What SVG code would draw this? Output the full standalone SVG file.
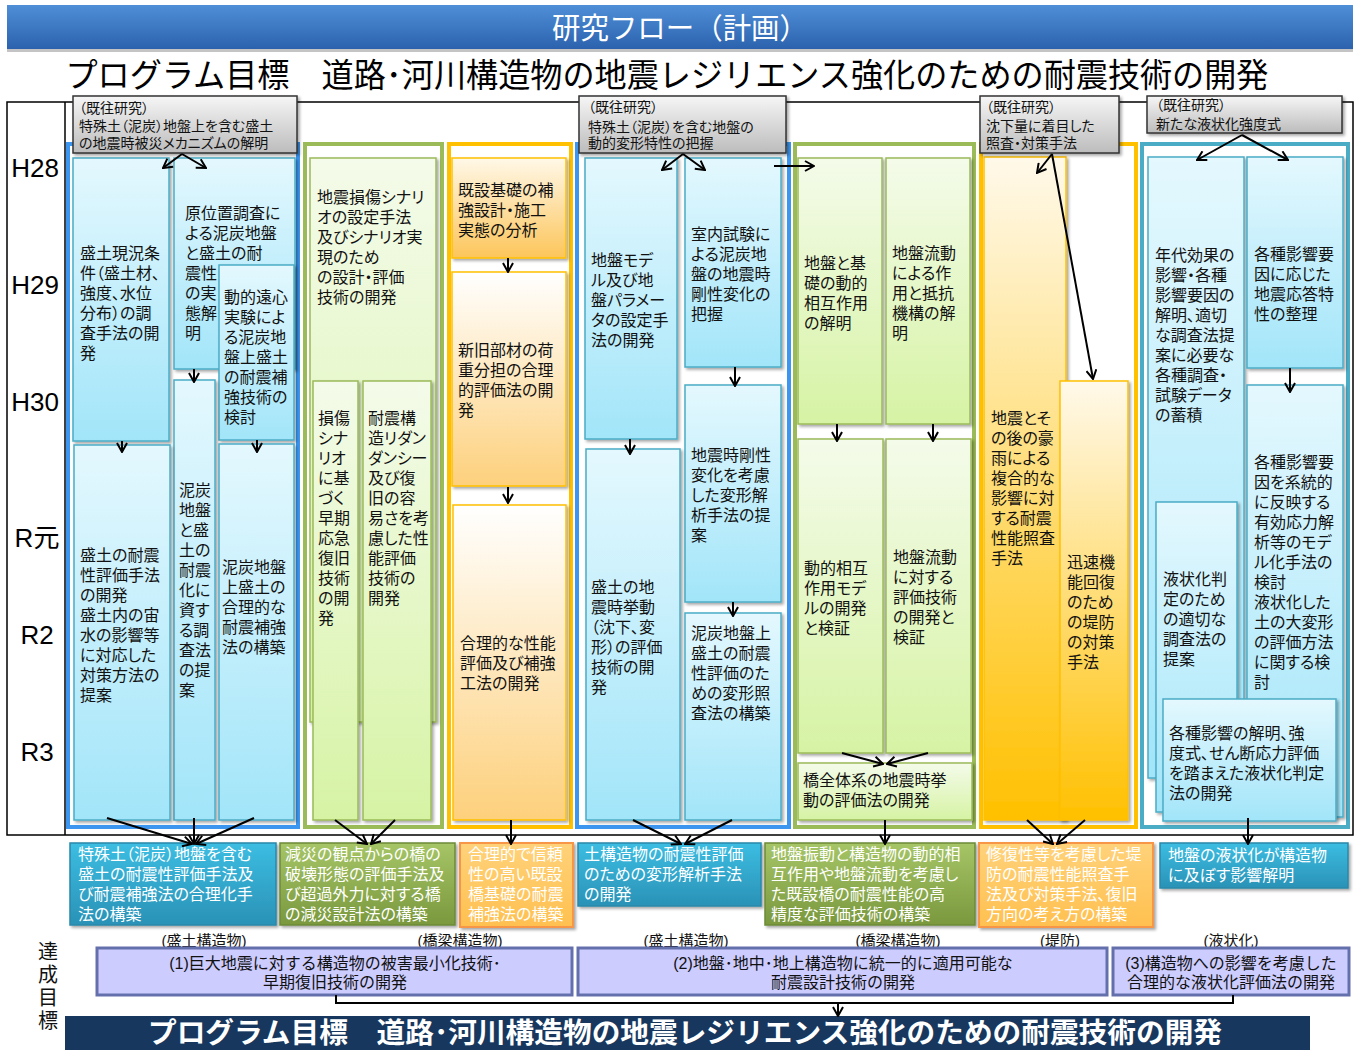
<svg xmlns="http://www.w3.org/2000/svg" width="1359" height="1050" viewBox="0 0 1359 1050">
<defs>
<linearGradient id="gB" x1="0" y1="0" x2="0" y2="1"><stop offset="0" stop-color="#e4f8fe"/><stop offset="1" stop-color="#a2e5f9"/></linearGradient>
<linearGradient id="gG" x1="0" y1="0" x2="0" y2="1"><stop offset="0" stop-color="#f4fbea"/><stop offset="1" stop-color="#d6f3a4"/></linearGradient>
<linearGradient id="gO1" x1="0" y1="0" x2="0" y2="1"><stop offset="0" stop-color="#fff8e8"/><stop offset="1" stop-color="#fcc55a"/></linearGradient>
<linearGradient id="gO2" x1="0" y1="0" x2="0" y2="1"><stop offset="0" stop-color="#ffffff"/><stop offset="1" stop-color="#fdd07c"/></linearGradient>
<linearGradient id="gO3" x1="0" y1="0" x2="0" y2="1"><stop offset="0" stop-color="#fff9ea"/><stop offset="1" stop-color="#ffc000"/></linearGradient>
<linearGradient id="gGr" x1="0" y1="0" x2="0" y2="1"><stop offset="0" stop-color="#f6f6f6"/><stop offset="1" stop-color="#bcbcbc"/></linearGradient>
<linearGradient id="gT" x1="0" y1="0" x2="0" y2="1"><stop offset="0" stop-color="#4f8fd8"/><stop offset="1" stop-color="#2c62ad"/></linearGradient>
<linearGradient id="oT" x1="0" y1="0" x2="0" y2="1"><stop offset="0" stop-color="#3cbde2"/><stop offset="1" stop-color="#2a92b6"/></linearGradient>
<linearGradient id="oG" x1="0" y1="0" x2="0" y2="1"><stop offset="0" stop-color="#a6c566"/><stop offset="1" stop-color="#7a983d"/></linearGradient>
<linearGradient id="oO" x1="0" y1="0" x2="0" y2="1"><stop offset="0" stop-color="#ffd27a"/><stop offset="1" stop-color="#ffc04f"/></linearGradient>
<filter id="sh" x="-15%" y="-10%" width="140%" height="130%"><feDropShadow dx="2" dy="2" stdDeviation="1.5" flood-color="#000" flood-opacity="0.35"/></filter>
<marker id="a" viewBox="0 0 12 12" refX="11" refY="6" markerWidth="12" markerHeight="12" markerUnits="userSpaceOnUse" orient="auto"><path d="M2,1 L11,6 L2,11" fill="none" stroke="#000" stroke-width="2"/></marker>
</defs>
<style>
.t{font-family:"Liberation Sans","Noto Sans CJK JP",sans-serif;font-size:16px;fill:#111;font-feature-settings:"palt" 1}
.gt{font-size:14px}
.ot{fill:#fff}
.yr{font-family:"Liberation Sans","Noto Sans CJK JP",sans-serif;font-size:26px;fill:#000;text-anchor:middle}
.nb{fill:url(#gB);stroke:#4bacc6;stroke-width:1.5;filter:url(#sh)}
.ng{fill:url(#gG);stroke:#9bbb59;stroke-width:1.5;filter:url(#sh)}
.no1{fill:url(#gO1);stroke:#ffc000;stroke-width:1.5;filter:url(#sh)}
.no2{fill:url(#gO2);stroke:#ffc000;stroke-width:1.5;filter:url(#sh)}
.no3{fill:url(#gO3);stroke:#ffc000;stroke-width:1.5;filter:url(#sh)}
.gr{fill:url(#gGr);stroke:#333;stroke-width:1.5;filter:url(#sh)}
.cb{fill:#fff;stroke:#3c96f0;stroke-width:4}
.cg{fill:#fff;stroke:#9bbb59;stroke-width:4}
.co{fill:#fff;stroke:#ffc000;stroke-width:4}
.ct{fill:#fff;stroke:#4bacc6;stroke-width:4}
.obt{fill:url(#oT);stroke:#2a88aa;stroke-width:1.5;filter:url(#sh)}
.obg{fill:url(#oG);stroke:#6d8a38;stroke-width:1.5;filter:url(#sh)}
.obo{fill:url(#oO);stroke:#f79646;stroke-width:2;filter:url(#sh)}
.gl{fill:#ccccff;stroke:#6470ac;stroke-width:3}
.c line,.c polyline{stroke:#000;stroke-width:2;fill:none}
.ar{marker-end:url(#a)}
</style>

<!-- header -->
<g id="header">
<rect x="7" y="8" width="1346" height="44" fill="#8a8a8a" opacity="0.5"/>
<rect x="7" y="5" width="1346" height="44" fill="url(#gT)"/>
<text class="t" x="680" y="39" style="font-size:29px;fill:#fff;text-anchor:middle;font-feature-settings:normal" textLength="256" lengthAdjust="spacingAndGlyphs">研究フロー（計画）</text>
<text class="t" x="667" y="87" style="font-size:33px;fill:#000;text-anchor:middle;font-feature-settings:normal" textLength="1203" lengthAdjust="spacingAndGlyphs">プログラム目標　道路･河川構造物の地震レジリエンス強化のための耐震技術の開発</text>
</g>

<!-- frame and years -->
<g id="frame">
<rect x="7" y="102" width="1346" height="733" fill="none" stroke="#000" stroke-width="1.5"/>
<line x1="65" y1="102" x2="65" y2="835" stroke="#000" stroke-width="1.5"/>
<text class="yr" x="35" y="177">H28</text>
<text class="yr" x="35" y="294">H29</text>
<text class="yr" x="35" y="411">H30</text>
<text class="yr" x="37" y="547">R元</text>
<text class="yr" x="37" y="644">R2</text>
<text class="yr" x="37" y="761">R3</text>
</g>

<!-- containers -->
<g id="containers">
<rect class="cb" x="68" y="144" width="230" height="683"/>
<rect class="cg" x="305" y="144" width="137" height="683"/>
<rect class="co" x="449" y="144" width="122" height="683"/>
<rect class="cb" x="577" y="144" width="212" height="683"/>
<rect class="cg" x="795" y="144" width="179" height="683"/>
<rect class="co" x="981" y="144" width="155" height="683"/>
<rect class="ct" x="1142" y="144" width="206" height="683"/>
</g>

<!-- column 1 -->
<g id="n1a"><rect class="nb" x="73" y="158" width="96" height="283"/>
<text class="t" x="80" y="259"><tspan x="80">盛土現況条</tspan><tspan x="80" dy="20">件（盛土材、</tspan><tspan x="80" dy="20">強度、水位</tspan><tspan x="80" dy="20">分布）の調</tspan><tspan x="80" dy="20">査手法の開</tspan><tspan x="80" dy="20">発</tspan></text></g>
<g id="n1b"><rect class="nb" x="174" y="158" width="121" height="211"/>
<text class="t" x="185" y="219"><tspan x="185">原位置調査に</tspan><tspan x="185" dy="20">よる泥炭地盤</tspan><tspan x="185" dy="20">と盛土の耐</tspan><tspan x="185" dy="20">震性</tspan><tspan x="185" dy="20">の実</tspan><tspan x="185" dy="20">態解</tspan><tspan x="185" dy="20">明</tspan></text></g>
<g id="n1c"><rect class="nb" x="219" y="265" width="75" height="175"/>
<text class="t" x="224" y="303"><tspan x="224">動的遠心</tspan><tspan x="224" dy="20">実験によ</tspan><tspan x="224" dy="20">る泥炭地</tspan><tspan x="224" dy="20">盤上盛土</tspan><tspan x="224" dy="20">の耐震補</tspan><tspan x="224" dy="20">強技術の</tspan><tspan x="224" dy="20">検討</tspan></text></g>
<g id="n1d"><rect class="nb" x="174" y="380" width="41" height="440"/>
<text class="t" x="179" y="496"><tspan x="179">泥炭</tspan><tspan x="179" dy="20">地盤</tspan><tspan x="179" dy="20">と盛</tspan><tspan x="179" dy="20">土の</tspan><tspan x="179" dy="20">耐震</tspan><tspan x="179" dy="20">化に</tspan><tspan x="179" dy="20">資す</tspan><tspan x="179" dy="20">る調</tspan><tspan x="179" dy="20">査法</tspan><tspan x="179" dy="20">の提</tspan><tspan x="179" dy="20">案</tspan></text></g>
<g id="n1e"><rect class="nb" x="74" y="445" width="96" height="375"/>
<text class="t" x="80" y="561"><tspan x="80">盛土の耐震</tspan><tspan x="80" dy="20">性評価手法</tspan><tspan x="80" dy="20">の開発</tspan><tspan x="80" dy="20">盛土内の宙</tspan><tspan x="80" dy="20">水の影響等</tspan><tspan x="80" dy="20">に対応した</tspan><tspan x="80" dy="20">対策方法の</tspan><tspan x="80" dy="20">提案</tspan></text></g>
<g id="n1f"><rect class="nb" x="219" y="444" width="75" height="376"/>
<text class="t" x="222" y="573"><tspan x="222">泥炭地盤</tspan><tspan x="222" dy="20">上盛土の</tspan><tspan x="222" dy="20">合理的な</tspan><tspan x="222" dy="20">耐震補強</tspan><tspan x="222" dy="20">法の構築</tspan></text></g>

<!-- column 2 -->
<g id="n2a"><rect class="ng" x="310" y="158" width="126" height="564"/>
<text class="t" x="317" y="203"><tspan x="317">地震損傷シナリ</tspan><tspan x="317" dy="20">オの設定手法</tspan><tspan x="317" dy="20">及びシナリオ実</tspan><tspan x="317" dy="20">現のため</tspan><tspan x="317" dy="20">の設計・評価</tspan><tspan x="317" dy="20">技術の開発</tspan></text></g>
<g id="n2b"><rect class="ng" x="313" y="381" width="45" height="439"/>
<text class="t" x="318" y="424"><tspan x="318">損傷</tspan><tspan x="318" dy="20">シナ</tspan><tspan x="318" dy="20">リオ</tspan><tspan x="318" dy="20">に基</tspan><tspan x="318" dy="20">づく</tspan><tspan x="318" dy="20">早期</tspan><tspan x="318" dy="20">応急</tspan><tspan x="318" dy="20">復旧</tspan><tspan x="318" dy="20">技術</tspan><tspan x="318" dy="20">の開</tspan><tspan x="318" dy="20">発</tspan></text></g>
<g id="n2c"><rect class="ng" x="363" y="381" width="68" height="439"/>
<text class="t" x="368" y="424"><tspan x="368">耐震構</tspan><tspan x="368" dy="20">造リダン</tspan><tspan x="368" dy="20">ダンシー</tspan><tspan x="368" dy="20">及び復</tspan><tspan x="368" dy="20">旧の容</tspan><tspan x="368" dy="20">易さを考</tspan><tspan x="368" dy="20">慮した性</tspan><tspan x="368" dy="20">能評価</tspan><tspan x="368" dy="20">技術の</tspan><tspan x="368" dy="20">開発</tspan></text></g>

<!-- column 3 -->
<g id="n3a"><rect class="no1" x="452" y="158" width="114" height="100"/>
<text class="t" x="458" y="196"><tspan x="458">既設基礎の補</tspan><tspan x="458" dy="20">強設計・施工</tspan><tspan x="458" dy="20">実態の分析</tspan></text></g>
<g id="n3b"><rect class="no2" x="452" y="272" width="114" height="214"/>
<text class="t" x="458" y="356"><tspan x="458">新旧部材の荷</tspan><tspan x="458" dy="20">重分担の合理</tspan><tspan x="458" dy="20">的評価法の開</tspan><tspan x="458" dy="20">発</tspan></text></g>
<g id="n3c"><rect class="no2" x="453" y="505" width="113" height="315"/>
<text class="t" x="460" y="649"><tspan x="460">合理的な性能</tspan><tspan x="460" dy="20">評価及び補強</tspan><tspan x="460" dy="20">工法の開発</tspan></text></g>

<!-- column 4 -->
<g id="n4a"><rect class="nb" x="585" y="158" width="92" height="281"/>
<text class="t" x="591" y="266"><tspan x="591">地盤モデ</tspan><tspan x="591" dy="20">ル及び地</tspan><tspan x="591" dy="20">盤パラメー</tspan><tspan x="591" dy="20">タの設定手</tspan><tspan x="591" dy="20">法の開発</tspan></text></g>
<g id="n4b"><rect class="nb" x="685" y="158" width="96" height="209"/>
<text class="t" x="691" y="240"><tspan x="691">室内試験に</tspan><tspan x="691" dy="20">よる泥炭地</tspan><tspan x="691" dy="20">盤の地震時</tspan><tspan x="691" dy="20">剛性変化の</tspan><tspan x="691" dy="20">把握</tspan></text></g>
<g id="n4c"><rect class="nb" x="685" y="385" width="96" height="217"/>
<text class="t" x="691" y="461"><tspan x="691">地震時剛性</tspan><tspan x="691" dy="20">変化を考慮</tspan><tspan x="691" dy="20">した変形解</tspan><tspan x="691" dy="20">析手法の提</tspan><tspan x="691" dy="20">案</tspan></text></g>
<g id="n4d"><rect class="nb" x="586" y="449" width="94" height="371"/>
<text class="t" x="591" y="593"><tspan x="591">盛土の地</tspan><tspan x="591" dy="20">震時挙動</tspan><tspan x="591" dy="20">（沈下、変</tspan><tspan x="591" dy="20">形）の評価</tspan><tspan x="591" dy="20">技術の開</tspan><tspan x="591" dy="20">発</tspan></text></g>
<g id="n4e"><rect class="nb" x="685" y="613" width="96" height="207"/>
<text class="t" x="691" y="639"><tspan x="691">泥炭地盤上</tspan><tspan x="691" dy="20">盛土の耐震</tspan><tspan x="691" dy="20">性評価のた</tspan><tspan x="691" dy="20">めの変形照</tspan><tspan x="691" dy="20">査法の構築</tspan></text></g>

<!-- column 5 -->
<g id="n5a"><rect class="ng" x="798" y="158" width="84" height="266"/>
<text class="t" x="804" y="269"><tspan x="804">地盤と基</tspan><tspan x="804" dy="20">礎の動的</tspan><tspan x="804" dy="20">相互作用</tspan><tspan x="804" dy="20">の解明</tspan></text></g>
<g id="n5b"><rect class="ng" x="886" y="158" width="84" height="266"/>
<text class="t" x="892" y="259"><tspan x="892">地盤流動</tspan><tspan x="892" dy="20">による作</tspan><tspan x="892" dy="20">用と抵抗</tspan><tspan x="892" dy="20">機構の解</tspan><tspan x="892" dy="20">明</tspan></text></g>
<g id="n5c"><rect class="ng" x="798" y="439" width="85" height="314"/>
<text class="t" x="804" y="574"><tspan x="804">動的相互</tspan><tspan x="804" dy="20">作用モデ</tspan><tspan x="804" dy="20">ルの開発</tspan><tspan x="804" dy="20">と検証</tspan></text></g>
<g id="n5d"><rect class="ng" x="886" y="439" width="85" height="314"/>
<text class="t" x="893" y="563"><tspan x="893">地盤流動</tspan><tspan x="893" dy="20">に対する</tspan><tspan x="893" dy="20">評価技術</tspan><tspan x="893" dy="20">の開発と</tspan><tspan x="893" dy="20">検証</tspan></text></g>
<g id="n5e"><rect class="ng" x="798" y="763" width="174" height="57"/>
<text class="t" x="803" y="786"><tspan x="803">橋全体系の地震時挙</tspan><tspan x="803" dy="20">動の評価法の開発</tspan></text></g>

<!-- column 6 -->
<g id="n6a"><rect class="no3" x="984" y="157" width="82" height="663"/>
<text class="t" x="991" y="424"><tspan x="991">地震とそ</tspan><tspan x="991" dy="20">の後の豪</tspan><tspan x="991" dy="20">雨による</tspan><tspan x="991" dy="20">複合的な</tspan><tspan x="991" dy="20">影響に対</tspan><tspan x="991" dy="20">する耐震</tspan><tspan x="991" dy="20">性能照査</tspan><tspan x="991" dy="20">手法</tspan></text></g>
<g id="n6b"><rect class="no3" x="1060" y="381" width="68" height="439"/>
<text class="t" x="1067" y="568"><tspan x="1067">迅速機</tspan><tspan x="1067" dy="20">能回復</tspan><tspan x="1067" dy="20">のため</tspan><tspan x="1067" dy="20">の堤防</tspan><tspan x="1067" dy="20">の対策</tspan><tspan x="1067" dy="20">手法</tspan></text></g>

<!-- column 7 -->
<g id="n7a"><rect class="nb" x="1148" y="157" width="96" height="621"/>
<text class="t" x="1155" y="261"><tspan x="1155">年代効果の</tspan><tspan x="1155" dy="20">影響・各種</tspan><tspan x="1155" dy="20">影響要因の</tspan><tspan x="1155" dy="20">解明、適切</tspan><tspan x="1155" dy="20">な調査法提</tspan><tspan x="1155" dy="20">案に必要な</tspan><tspan x="1155" dy="20">各種調査・</tspan><tspan x="1155" dy="20">試験データ</tspan><tspan x="1155" dy="20">の蓄積</tspan></text></g>
<g id="n7b"><rect class="nb" x="1247" y="157" width="96" height="211"/>
<text class="t" x="1254" y="260"><tspan x="1254">各種影響要</tspan><tspan x="1254" dy="20">因に応じた</tspan><tspan x="1254" dy="20">地震応答特</tspan><tspan x="1254" dy="20">性の整理</tspan></text></g>
<g id="n7c"><rect class="nb" x="1247" y="385" width="96" height="432"/>
<text class="t" x="1254" y="468"><tspan x="1254">各種影響要</tspan><tspan x="1254" dy="20">因を系統的</tspan><tspan x="1254" dy="20">に反映する</tspan><tspan x="1254" dy="20">有効応力解</tspan><tspan x="1254" dy="20">析等のモデ</tspan><tspan x="1254" dy="20">ル化手法の</tspan><tspan x="1254" dy="20">検討</tspan><tspan x="1254" dy="20">液状化した</tspan><tspan x="1254" dy="20">土の大変形</tspan><tspan x="1254" dy="20">の評価方法</tspan><tspan x="1254" dy="20">に関する検</tspan><tspan x="1254" dy="20">討</tspan></text></g>
<g id="n7d"><rect class="nb" x="1156" y="502" width="81" height="310"/>
<text class="t" x="1163" y="585"><tspan x="1163">液状化判</tspan><tspan x="1163" dy="20">定のため</tspan><tspan x="1163" dy="20">の適切な</tspan><tspan x="1163" dy="20">調査法の</tspan><tspan x="1163" dy="20">提案</tspan></text></g>
<g id="n7e"><rect class="nb" x="1163" y="699" width="173" height="122"/>
<text class="t" x="1169" y="739"><tspan x="1169">各種影響の解明、強</tspan><tspan x="1169" dy="20">度式、せん断応力評価</tspan><tspan x="1169" dy="20">を踏まえた液状化判定</tspan><tspan x="1169" dy="20">法の開発</tspan></text></g>

<!-- previous research boxes -->
<g id="prevA"><rect class="gr" x="73" y="96" width="224" height="57"/>
<text class="t gt" x="79" y="113"><tspan x="79">（既往研究）</tspan><tspan x="79" dy="18">特殊土（泥炭）地盤上を含む盛土</tspan><tspan x="79" dy="17">の地震時被災メカニズムの解明</tspan></text></g>
<g id="prevB"><rect class="gr" x="579" y="96" width="207" height="57"/>
<text class="t gt" x="588" y="112"><tspan x="588">（既往研究）</tspan><tspan x="588" dy="20">特殊土（泥炭）を含む地盤の</tspan><tspan x="588" dy="16">動的変形特性の把握</tspan></text></g>
<g id="prevC"><rect class="gr" x="980" y="96" width="139" height="57"/>
<text class="t gt" x="986" y="112"><tspan x="986">（既往研究）</tspan><tspan x="986" dy="19">沈下量に着目した</tspan><tspan x="986" dy="17">照査・対策手法</tspan></text></g>
<g id="prevD"><rect class="gr" x="1147" y="96" width="195" height="37"/>
<text class="t gt" x="1156" y="110"><tspan x="1156">（既往研究）</tspan><tspan x="1156" dy="19">新たな液状化強度式</tspan></text></g>

<!-- outputs -->
<g id="out1"><rect class="obt" x="70" y="843" width="206" height="82"/>
<text class="t ot" x="78" y="860"><tspan x="78">特殊土（泥炭）地盤を含む</tspan><tspan x="78" dy="20">盛土の耐震性評価手法及</tspan><tspan x="78" dy="20">び耐震補強法の合理化手</tspan><tspan x="78" dy="20">法の構築</tspan></text></g>
<g id="out2"><rect class="obg" x="280" y="843" width="175" height="82"/>
<text class="t ot" x="285" y="860"><tspan x="285">減災の観点からの橋の</tspan><tspan x="285" dy="20">破壊形態の評価手法及</tspan><tspan x="285" dy="20">び超過外力に対する橋</tspan><tspan x="285" dy="20">の減災設計法の構築</tspan></text></g>
<g id="out3"><rect class="obo" x="460" y="843" width="113" height="84"/>
<text class="t ot" x="468" y="860"><tspan x="468">合理的で信頼</tspan><tspan x="468" dy="20">性の高い既設</tspan><tspan x="468" dy="20">橋基礎の耐震</tspan><tspan x="468" dy="20">補強法の構築</tspan></text></g>
<g id="out4"><rect class="obt" x="578" y="843" width="183" height="63"/>
<text class="t ot" x="584" y="860"><tspan x="584">土構造物の耐震性評価</tspan><tspan x="584" dy="20">のための変形解析手法</tspan><tspan x="584" dy="20">の開発</tspan></text></g>
<g id="out5"><rect class="obg" x="765" y="843" width="210" height="82"/>
<text class="t ot" x="771" y="860"><tspan x="771">地盤振動と構造物の動的相</tspan><tspan x="771" dy="20">互作用や地盤流動を考慮し</tspan><tspan x="771" dy="20">た既設橋の耐震性能の高</tspan><tspan x="771" dy="20">精度な評価技術の構築</tspan></text></g>
<g id="out6"><rect class="obo" x="979" y="843" width="174" height="84"/>
<text class="t ot" x="986" y="860"><tspan x="986">修復性等を考慮した堤</tspan><tspan x="986" dy="20">防の耐震性能照査手</tspan><tspan x="986" dy="20">法及び対策手法、復旧</tspan><tspan x="986" dy="20">方向の考え方の構築</tspan></text></g>
<g id="out7"><rect class="obt" x="1160" y="843" width="188" height="45"/>
<text class="t ot" x="1168" y="861"><tspan x="1168">地盤の液状化が構造物</tspan><tspan x="1168" dy="20">に及ぼす影響解明</tspan></text></g>

<!-- goals -->
<g id="labels">
<text class="t" x="204" y="946" style="font-size:15px;text-anchor:middle;font-feature-settings:normal">(盛土構造物)</text>
<text class="t" x="460" y="946" style="font-size:15px;text-anchor:middle;font-feature-settings:normal">(橋梁構造物)</text>
<text class="t" x="686" y="946" style="font-size:15px;text-anchor:middle;font-feature-settings:normal">(盛土構造物)</text>
<text class="t" x="898" y="946" style="font-size:15px;text-anchor:middle;font-feature-settings:normal">(橋梁構造物)</text>
<text class="t" x="1060" y="946" style="font-size:15px;text-anchor:middle;font-feature-settings:normal">(堤防)</text>
<text class="t" x="1231" y="946" style="font-size:15px;text-anchor:middle;font-feature-settings:normal">(液状化)</text>
<text class="t" x="48" style="font-size:20px;text-anchor:middle"><tspan x="48" y="959">達</tspan><tspan x="48" y="982">成</tspan><tspan x="48" y="1005">目</tspan><tspan x="48" y="1028">標</tspan></text>
</g>
<g id="goal1"><rect class="gl" x="97" y="948" width="475" height="47"/>
<text class="t" x="335" y="969" style="text-anchor:middle;font-feature-settings:normal"><tspan x="335">(1)巨大地震に対する構造物の被害最小化技術･</tspan><tspan x="335" dy="19">早期復旧技術の開発</tspan></text></g>
<g id="goal2"><rect class="gl" x="578" y="948" width="529" height="47"/>
<text class="t" x="843" y="969" style="text-anchor:middle;font-feature-settings:normal"><tspan x="843">(2)地盤･地中･地上構造物に統一的に適用可能な</tspan><tspan x="843" dy="19">耐震設計技術の開発</tspan></text></g>
<g id="goal3"><rect class="gl" x="1113" y="948" width="236" height="47"/>
<text class="t" x="1231" y="969" style="text-anchor:middle;font-feature-settings:normal"><tspan x="1231">(3)構造物への影響を考慮した</tspan><tspan x="1231" dy="19">合理的な液状化評価法の開発</tspan></text></g>

<g id="footer">
<rect x="65" y="1016" width="1245" height="34" fill="#17375e"/>
<text class="t" x="685" y="1043" style="font-size:28px;font-weight:bold;fill:#fff;text-anchor:middle;font-feature-settings:normal" textLength="1074" lengthAdjust="spacingAndGlyphs">プログラム目標　道路･河川構造物の地震レジリエンス強化のための耐震技術の開発</text>
</g>

<!-- connectors -->
<g id="connectors" class="c">
<line class="ar" x1="182" y1="154" x2="163" y2="168"/>
<line class="ar" x1="182" y1="154" x2="206" y2="168"/>
<line class="ar" x1="122" y1="441" x2="122" y2="452"/>
<line class="ar" x1="194" y1="369" x2="194" y2="382"/>
<line class="ar" x1="257" y1="440" x2="257" y2="452"/>
<line class="ar" x1="107" y1="818" x2="192" y2="844"/>
<line class="ar" x1="194" y1="818" x2="194" y2="844"/>
<line class="ar" x1="254" y1="818" x2="196" y2="844"/>
<line class="ar" x1="335" y1="820" x2="367" y2="844"/>
<line class="ar" x1="395" y1="820" x2="371" y2="844"/>
<line class="ar" x1="508" y1="258" x2="508" y2="272"/>
<line class="ar" x1="508" y1="487" x2="508" y2="503"/>
<line class="ar" x1="511" y1="820" x2="511" y2="844"/>
<line class="ar" x1="683" y1="154" x2="662" y2="170"/>
<line class="ar" x1="683" y1="154" x2="705" y2="170"/>
<line class="ar" x1="774" y1="166" x2="814" y2="166"/>
<line class="ar" x1="630" y1="439" x2="630" y2="454"/>
<line class="ar" x1="735" y1="367" x2="735" y2="386"/>
<line class="ar" x1="733" y1="602" x2="733" y2="616"/>
<line class="ar" x1="633" y1="820" x2="681" y2="844"/>
<line class="ar" x1="732" y1="820" x2="685" y2="844"/>
<line class="ar" x1="837" y1="424" x2="837" y2="441"/>
<line class="ar" x1="933" y1="424" x2="933" y2="441"/>
<line class="ar" x1="842" y1="753" x2="883" y2="764"/>
<line class="ar" x1="928" y1="753" x2="887" y2="764"/>
<line class="ar" x1="885" y1="820" x2="885" y2="844"/>
<line class="ar" x1="1052" y1="154" x2="1037" y2="173"/>
<line class="ar" x1="1052" y1="154" x2="1093" y2="379"/>
<line class="ar" x1="1027" y1="820" x2="1053" y2="844"/>
<line class="ar" x1="1085" y1="820" x2="1057" y2="844"/>
<line class="ar" x1="1242" y1="135" x2="1197" y2="160"/>
<line class="ar" x1="1242" y1="135" x2="1288" y2="160"/>
<line class="ar" x1="1290" y1="368" x2="1290" y2="392"/>
<line class="ar" x1="1248" y1="818" x2="1248" y2="844"/>
<polyline points="336,995 336,1003 1233,1003 1233,995"/>
<line class="ar" x1="838" y1="1003" x2="838" y2="1016"/>
</g>
</svg>
